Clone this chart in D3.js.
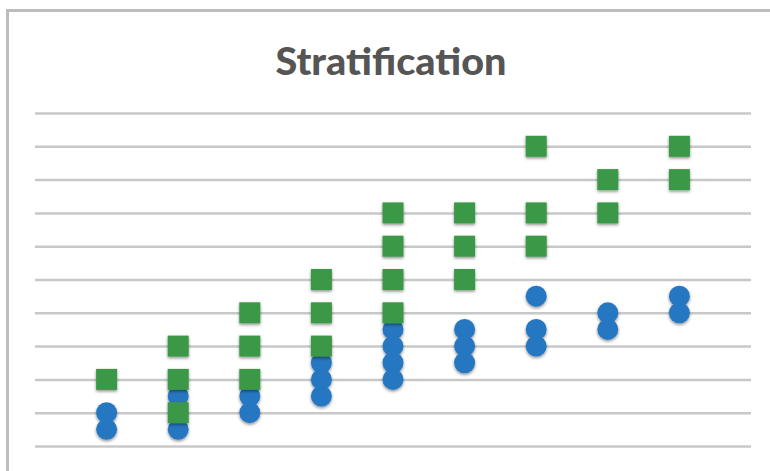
<!DOCTYPE html>
<html>
<head>
<meta charset="utf-8">
<script src="https://cdn.jsdelivr.net/npm/d3@7"></script>
<style>
  html, body { margin: 0; padding: 0; background: #fff; }
  svg { display: block; }
</style>
</head>
<body>
<svg id="chart" width="770" height="471"></svg>
<script>
// Group positions along the horizontal axis
const groups = [1, 2, 3, 4, 5, 6, 7, 8, 9];

// Upper stratum (green squares), values per group
const upperValues = [
  [2],
  [3, 2, 1],
  [4, 3, 2],
  [5, 4, 3],
  [7, 6, 5, 4],
  [7, 6, 5],
  [9, 7, 6],
  [8, 7],
  [9, 8]
];

// Lower stratum (blue circles), values per group
const lowerValues = [
  [1, 0.5],
  [1.5, 0.5],
  [1.5, 1],
  [2.5, 2, 1.5],
  [3.5, 3, 2.5, 2],
  [3.5, 3, 2.5],
  [4.5, 3.5, 3],
  [4, 3.5],
  [4.5, 4]
];

// Gridline values
const gridTicks = [0, 1, 2, 3, 4, 5, 6, 7, 8, 9, 10];

const title = "Stratification";

const svg = d3.select("#chart");
const W = 770, H = 471;

const x = d3.scaleLinear().domain([0, 10]).range([35, 751]);
const y = d3.scaleLinear().domain([0, 10]).range([446, 113]);

// soft marker shadow
const defs = svg.append("defs");
const f = defs.append("filter").attr("id", "shadow")
  .attr("x", "-50%").attr("y", "-50%").attr("width", "200%").attr("height", "200%");
f.append("feDropShadow").attr("dx", 0).attr("dy", 1.5)
  .attr("stdDeviation", 1.4).attr("flood-color", "#000").attr("flood-opacity", 0.45);

// chart frame
svg.append("rect")
  .attr("x", 7.5).attr("y", 10.5)
  .attr("width", W + 20).attr("height", H + 20)
  .attr("fill", "#fff")
  .attr("stroke", "#bdbdbd").attr("stroke-width", 3);

// title
svg.append("text")
  .attr("x", 391).attr("y", 75)
  .attr("text-anchor", "middle")
  .attr("font-family", "Lato, 'Open Sans', sans-serif")
  .attr("font-weight", 900)
  .attr("font-size", 38)
  .attr("textLength", 231)
  .attr("lengthAdjust", "spacingAndGlyphs")
  .attr("fill", "#555555")
  .text(title);

// horizontal gridlines
const grid = svg.append("g")
  .attr("transform", `translate(${x.range()[0]},0)`)
  .call(d3.axisLeft(y).tickValues(gridTicks)
    .tickSize(-(x.range()[1] - x.range()[0])).tickFormat(""));
grid.select(".domain").remove();
grid.selectAll(".tick line").attr("stroke", "#c8c8c8").attr("stroke-width", 2.5);

const flatten = (vals) => groups.flatMap((g, i) => vals[i].map(v => ({ g, v })));

const size = 21;

// lower stratum circles
svg.append("g").attr("filter", "url(#shadow)")
  .selectAll("circle")
  .data(flatten(lowerValues))
  .join("circle")
  .attr("cx", d => x(d.g))
  .attr("cy", d => y(d.v))
  .attr("r", size / 2)
  .attr("fill", "#2877c1");

// upper stratum squares
svg.append("g").attr("filter", "url(#shadow)")
  .selectAll("rect")
  .data(flatten(upperValues))
  .join("rect")
  .attr("x", d => x(d.g) - size / 2)
  .attr("y", d => y(d.v) - size / 2)
  .attr("width", size)
  .attr("height", size)
  .attr("fill", "#3b9846");
</script>
</body>
</html>
